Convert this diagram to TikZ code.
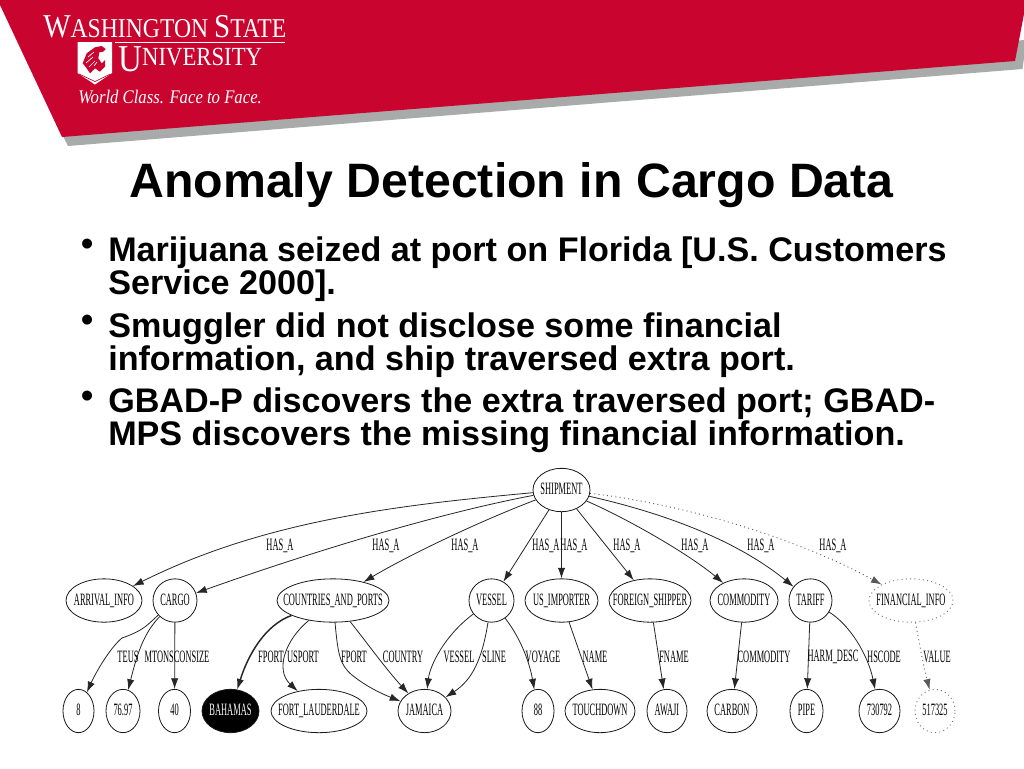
\documentclass[tikz,border=0pt]{standalone}
\usepackage{fontspec}
\usetikzlibrary{shapes.geometric,arrows.meta}
\setmainfont{Liberation Sans}
\newfontfamily\logofont[FakeStretch=0.87]{Liberation Serif}
\newfontfamily\gfont[FakeStretch=0.485]{Liberation Serif}
\definecolor{wsured}{HTML}{C8042F}
\definecolor{wsugray}{HTML}{A9ABAA}
\newcommand\gl[1]{\makebox[0pt][c]{\rule[-1.5pt]{0pt}{10pt}#1}}
\tikzset{
  x=0.75pt,y=-0.75pt,
  gnode/.style={ellipse,draw=black!90,line width=0.6pt,inner sep=0pt,minimum height=32.5pt,font=\gfont\fontsize{13}{14}\selectfont,text=black},
  halfw/.style={minimum width=#1*1.5pt},
  missing/.style={draw=black!55,dash pattern=on 0.7pt off 2.5pt,line width=0.7pt},
  edge/.style={draw=black!85,line width=0.6pt,-{Latex[length=8pt,width=5.5pt]}},
  edgedot/.style={edge,draw=black!65,dash pattern=on 0.7pt off 2.5pt,line width=0.7pt},
  elabel/.style={inner sep=0pt,font=\gfont\fontsize{13}{14}\selectfont,text=black},
  bullettext/.style={anchor=north west,inner sep=0pt,align=left,font=\bfseries\fontsize{25.6}{24.75}\selectfont},
  bulletmark/.style={anchor=base,inner sep=0pt,font=\bfseries\fontsize{26}{26}\selectfont},
}
\begin{document}
\begin{tikzpicture}
\useasboundingbox (0,0) rectangle (1024,768);
\fill[white] (0,0) rectangle (1024,768);
% banner
\fill[wsugray] (68,146) -- (1022.5,69) -- (1024,58) -- (1024,40) -- (60,130) -- cycle;
\fill[wsured] (0,0) -- (0,5) -- (62,137) -- (1015,61) -- (1024,14) -- (1024,0) -- cycle;
% logo
\node[anchor=base west,inner sep=0pt,text=white,font=\logofont] (wsu1) at (43,37.5) {\fontsize{25}{22}\selectfont W\fontsize{20.4}{22}\selectfont ASHINGTON \fontsize{25}{22}\selectfont S\fontsize{20.4}{22}\selectfont TATE};
\draw[white,line width=0.5pt] (115,42.7) -- (285,42.7);
\node[anchor=base west,inner sep=0pt,text=white,font=\logofont] (wsu2) at (118,65) {\raisebox{-4.5pt}{\fontsize{28.5}{22}\selectfont U}\fontsize{19.6}{22}\selectfont NIVERSITY};
\node[anchor=base west,inner sep=0pt,text=white,font=\logofont\itshape] (wsu3) at (78,103) {\fontsize{14.4}{14}\selectfont World Class. Face to Face.};
\fill[white] (77.5,42) -- (112,42) -- (112,73) -- (95,84.5) -- (77.5,73) -- cycle;
\draw[wsured,line width=0.5pt] (79,74) -- (95,81.5) -- (110.5,74);
\fill[wsured] (82.7,63.3) -- (86.7,53.3) -- (95,47.3) -- (101.7,46) -- (105.7,49) -- (103.3,51.7) -- (99.3,52.3) -- (98.3,58.3) -- (101.7,63.3) -- (105,60) -- (105,66.7) -- (100,71.7) -- (95,68.3) -- (90,73.3) -- (86.7,68.3) -- cycle;
\draw[white,line width=0.5pt] (88,57) -- (94,52) (86,63) -- (93,57) (89,67) -- (95,61) (94,66) -- (97,62);
% title
\node[inner sep=0pt,anchor=base,font=\bfseries\fontsize{36.2}{36}\selectfont] (title) at (511.5,197) {Anomaly Detection in Cargo Data};
% bullets
\node[bulletmark] (b1) at (88,255) {•};
\node[bulletmark] (b2) at (88,331) {•};
\node[bulletmark] (b3) at (88,407) {•};
\node[bullettext] (t1) at (108,236) {Marijuana seized at port on Florida [U.S. Customers\\Service 2000].};
\node[bullettext] (t2) at (108,312) {Smuggler did not disclose some financial\\information, and ship traversed extra port.};
\node[bullettext] (t3) at (108,387) {GBAD-P discovers the extra traversed port; GBAD-\\MPS discovers the missing financial information.};
% graph nodes
\node[gnode,halfw=28.5] (ship) at (561.5,490) {\gl{SHIPMENT}};
\node[gnode,halfw=38] (arr) at (104,600.5) {\gl{ARRIVAL\_INFO}};
\node[gnode,halfw=22] (cargo) at (175,600.5) {\gl{CARGO}};
\node[gnode,halfw=56] (cap) at (333,600.5) {\gl{COUNTRIES\_AND\_PORTS}};
\node[gnode,halfw=22.5] (vessel) at (491.5,600.5) {\gl{VESSEL}};
\node[gnode,halfw=36.5] (usimp) at (561.5,600.5) {\gl{US\_IMPORTER}};
\node[gnode,halfw=41] (fship) at (650,600.5) {\gl{FOREIGN\_SHIPPER}};
\node[gnode,halfw=34] (comm) at (744,600.5) {\gl{COMMODITY}};
\node[gnode,halfw=21.5] (tariff) at (810.5,600.5) {\gl{TARIFF}};
\node[gnode,missing,halfw=42] (fin) at (911,600.5) {\gl{FINANCIAL\_INFO}};
\node[gnode,halfw=15.5] (n8) at (78.5,711) {\gl{8}};
\node[gnode,halfw=17] (n7697) at (123,711) {\gl{76.97}};
\node[gnode,halfw=16] (n40) at (174.5,711) {\gl{40}};
\node[gnode,halfw=28.5,fill=black,text=white] (bah) at (230.5,711) {\gl{BAHAMAS}};
\node[gnode,halfw=48] (fort) at (319,711) {\gl{FORT\_LAUDERDALE}};
\node[gnode,halfw=26.5] (jam) at (424.5,711) {\gl{JAMAICA}};
\node[gnode,halfw=16] (n88) at (538,711) {\gl{88}};
\node[gnode,halfw=35] (touch) at (600,711) {\gl{TOUCHDOWN}};
\node[gnode,halfw=20] (awaji) at (667,711) {\gl{AWAJI}};
\node[gnode,halfw=25] (carbon) at (732,711) {\gl{CARBON}};
\node[gnode,halfw=16.5] (pipe) at (806.5,711) {\gl{PIPE}};
\node[gnode,halfw=20.5] (hs) at (879.5,711) {\gl{730792}};
\node[gnode,missing,halfw=20] (val) at (935,711) {\gl{517325}};
% edges
\draw[edge] (ship) .. controls (400,505) and (265,520) .. (arr);
\draw[edge] (ship) .. controls (430,515) and (300,556) .. (cargo);
\draw[edge] (ship) .. controls (470,525) and (400,560) .. (cap);
\draw[edge] (ship) -- (vessel);
\draw[edge] (ship) -- (usimp);
\draw[edge] (ship) -- (fship);
\draw[edge] (ship) .. controls (630,520) and (690,555) .. (comm);
\draw[edge] (ship) .. controls (650,510) and (730,535) .. (tariff);
\draw[edgedot] (ship) .. controls (690,505) and (800,540) .. (fin);
\draw[edge] (cargo) .. controls (148,624) and (145,630) .. (122,638) .. controls (110,648) and (96,672) .. (n8);
\draw[edge] (cargo) .. controls (145,632) and (138,650) .. (n7697);
\draw[edge] (cargo) -- (n40);
\draw[edge,line width=1.1pt] (cap) .. controls (265,625) and (248,655) .. (bah);
\draw[edge] (cap) .. controls (285,640) and (275,670) .. (fort);
\draw[edge] (cap) .. controls (338,655) and (340,665) .. (352,675) .. controls (368,688) and (385,695) .. (jam);
\draw[edge] (cap) .. controls (365,640) and (385,668) .. (jam);
\draw[edge] (vessel) .. controls (445,635) and (430,665) .. (jam);
\draw[edge] (vessel) .. controls (482,660) and (472,680) .. (jam);
\draw[edge] (vessel) .. controls (522,640) and (530,665) .. (n88);
\draw[edge] (usimp) -- (touch);
\draw[edge] (fship) -- (awaji);
\draw[edge] (comm) -- (carbon);
\draw[edge] (tariff) -- (pipe);
\draw[edge] (tariff) .. controls (850,625) and (868,655) .. (hs);
\draw[edgedot] (fin) .. controls (918,635) and (922,660) .. (val);
% labels
\foreach \nm/\lx in {l1/280,l2/386,l3/465,l4/546,l5/574,l6/627,l7/695,l8/761,l9/833}
  \node[elabel] (\nm) at (\lx,546) {HAS\_A};
\node[elabel] (e1) at (128,657) {TEUS};
\node[elabel] (e2) at (177,657) {MTONSCONSIZE};
\node[elabel] (e3) at (271,657) {FPORT};
\node[elabel] (e4) at (303,657) {USPORT};
\node[elabel] (e5) at (354,657) {FPORT};
\node[elabel] (e6) at (403,657) {COUNTRY};
\node[elabel] (e7) at (459,657) {VESSEL};
\node[elabel] (e8) at (494,657) {SLINE};
\node[elabel] (e9) at (543,657) {VOYAGE};
\node[elabel] (e10) at (595,657) {NAME};
\node[elabel] (e11) at (674,657) {FNAME};
\node[elabel] (e12) at (764,657) {COMMODITY};
\node[elabel] (e13) at (833,657) {HARM\_DESC};
\node[elabel] (e14) at (884,657) {HSCODE};
\node[elabel] (e15) at (937,657) {VALUE};
\end{tikzpicture}
\end{document}
